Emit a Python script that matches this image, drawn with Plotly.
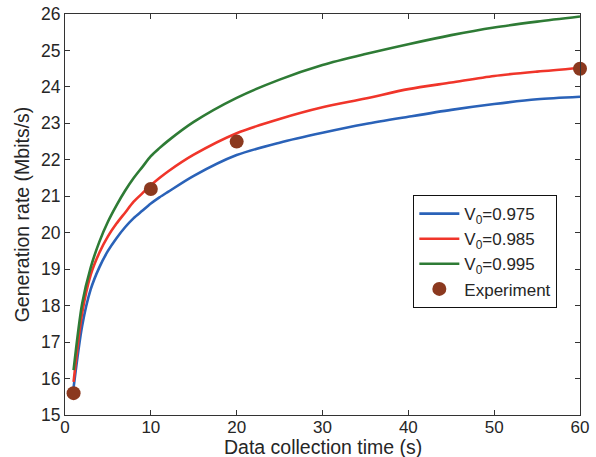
import plotly.graph_objects as go

x_model = [1, 2, 3, 4, 5, 6, 7, 8, 9, 10, 11, 12, 15, 20, 25, 30, 35, 40, 45, 50, 55, 60]
v0975 = [15.75, 17.45, 18.45, 19.05, 19.5, 19.85, 20.15, 20.4, 20.6, 20.8, 20.97, 21.12,
         21.56, 22.13, 22.47, 22.74, 22.98, 23.18, 23.37, 23.53, 23.66, 23.73]
v0985 = [15.91, 17.8, 18.85, 19.45, 19.9, 20.25, 20.55, 20.85, 21.08, 21.3, 21.5, 21.68,
         22.14, 22.73, 23.12, 23.44, 23.68, 23.94, 24.12, 24.30, 24.42, 24.52]
v0995 = [16.23, 18.06, 19.05, 19.75, 20.3, 20.75, 21.15, 21.5, 21.8, 22.1, 22.32, 22.52,
         23.04, 23.7, 24.2, 24.6, 24.9, 25.17, 25.42, 25.63, 25.79, 25.93]
x_exp = [1, 10, 20, 60]
y_exp = [15.6, 21.2, 22.5, 24.5]
x_title = "Data collection time (s)"
y_title = "Generation rate (Mbits/s)"

font_family = "Liberation Sans, Arial, sans-serif"
axis_color = "#262626"
line_shape = dict(shape="spline", smoothing=0.8)

fig = go.Figure()
fig.add_trace(go.Scatter(x=x_model, y=v0975, mode="lines", name="V<sub>0</sub>=0.975",
                         line=dict(color="#2a62b8", width=2.6, **line_shape)))
fig.add_trace(go.Scatter(x=x_model, y=v0985, mode="lines", name="V<sub>0</sub>=0.985",
                         line=dict(color="#f0352a", width=2.6, **line_shape)))
fig.add_trace(go.Scatter(x=x_model, y=v0995, mode="lines", name="V<sub>0</sub>=0.995",
                         line=dict(color="#2e7b35", width=2.6, **line_shape)))
fig.add_trace(go.Scatter(x=x_exp, y=y_exp, mode="markers", name="Experiment",
                         marker=dict(color="#8b391f", size=14), cliponaxis=False))

fig.update_layout(
    width=596, height=457,
    margin=dict(l=65, r=16, t=14, b=42, autoexpand=False),
    paper_bgcolor="white", plot_bgcolor="white",
    font=dict(family=font_family, size=17, color=axis_color),
    showlegend=True,
    legend=dict(x=0.676, y=0.549, xanchor="left", yanchor="top",
                bordercolor="#111111", borderwidth=1.2, bgcolor="white",
                font=dict(size=17, color=axis_color), tracegroupgap=0,
                itemwidth=40),
    xaxis=dict(range=[0, 60], tickvals=[0, 10, 20, 30, 40, 50, 60],
               ticks="inside", ticklen=5, tickcolor="#333333", mirror="ticks",
               showline=True, linecolor="#333333", linewidth=1.2,
               showgrid=False, zeroline=False, automargin=False,
               ticklabelstandoff=-4,
               tickfont=dict(size=17, color=axis_color)),
    yaxis=dict(range=[15, 26], tickvals=list(range(15, 27)),
               ticks="inside", ticklen=5, tickcolor="#333333", mirror="ticks",
               showline=True, linecolor="#333333", linewidth=1.2,
               showgrid=False, zeroline=False, automargin=False,
               tickfont=dict(size=17.5, color=axis_color),
               title=dict(text=y_title, font=dict(size=19.5, color=axis_color), standoff=6)),
    annotations=[dict(text=x_title, xref="paper", yref="paper", x=0.5, y=-42 / 401,
                      xanchor="center", yanchor="bottom", yshift=-3, showarrow=False,
                      font=dict(size=19.5, color=axis_color))],
)

fig.write_html("out.html", config={"displayModeBar": False},
               post_script="document.body.style.margin='0';document.body.style.overflow='hidden';")
